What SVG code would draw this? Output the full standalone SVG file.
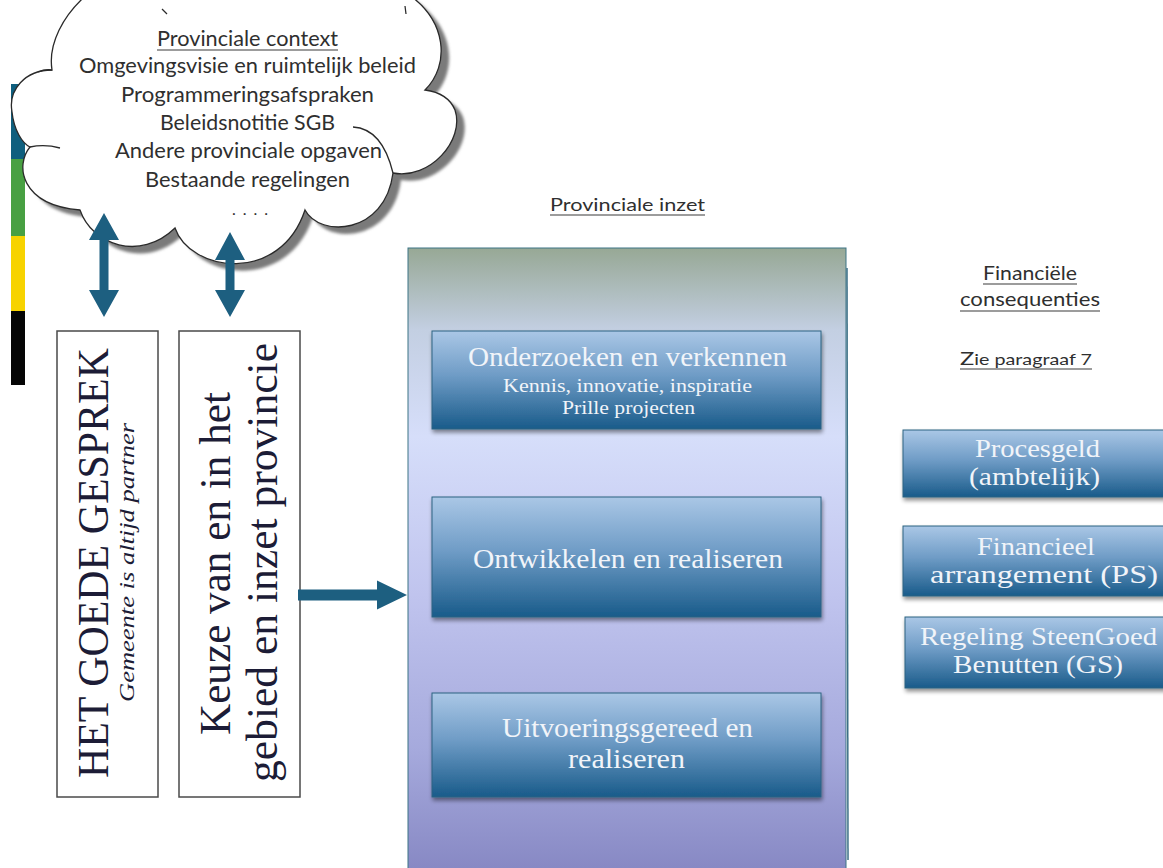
<svg xmlns="http://www.w3.org/2000/svg" width="1163" height="868" viewBox="0 0 1163 868">
  <style>
    .sans { font-family: Lato, "Open Sans", "Liberation Sans", sans-serif; fill: #2f2f2f; }
    .serif { font-family: "Liberation Serif", "DejaVu Serif", serif; }
    .dark { fill: #1c1c36; }
    .light { fill: #f1f4f9; }
    .rule { stroke: #3a3a3a; stroke-width: 1.2; }
    .frame { fill: #ffffff; stroke: #4a4a4a; stroke-width: 1.5; }
    .block { fill: url(#blockFill); stroke: #2e6381; stroke-width: 1; filter: url(#dropShadow); }
    .arrow { fill: #1d5f80; }
    .cloudLine { fill: none; stroke: #2a2a2a; stroke-width: 1.3; }
  </style>
  <defs>
    <linearGradient id="blockFill" x1="0" y1="0" x2="0" y2="1">
      <stop offset="0" stop-color="#aac7e6"/>
      <stop offset="0.45" stop-color="#6f9cc6"/>
      <stop offset="1" stop-color="#195b8a"/>
    </linearGradient>
    <linearGradient id="panelFill" x1="0" y1="0" x2="0" y2="1">
      <stop offset="0" stop-color="#97a895"/>
      <stop offset="0.13" stop-color="#c3cfe2"/>
      <stop offset="0.3" stop-color="#d6defa"/>
      <stop offset="0.55" stop-color="#c0c4ee"/>
      <stop offset="0.8" stop-color="#a5a9dc"/>
      <stop offset="1" stop-color="#8586c2"/>
    </linearGradient>
    <filter id="dropShadow" x="-5%" y="-10%" width="112%" height="130%">
      <feGaussianBlur in="SourceAlpha" stdDeviation="2"/>
      <feOffset dx="1" dy="3" result="b"/>
      <feComponentTransfer><feFuncA type="linear" slope="0.45"/></feComponentTransfer>
      <feMerge><feMergeNode/><feMergeNode in="SourceGraphic"/></feMerge>
    </filter>
    <filter id="soft" x="-10%" y="-10%" width="120%" height="120%">
      <feGaussianBlur stdDeviation="1.8"/>
    </filter>
    <path id="cloudShape" d="M 90,-8 C 62,15 48,45 52,70 C 25,70 8,90 12,112 C 14,130 22,143 30,147 C 15,165 20,205 80,210 C 92,245 140,262 175,228 C 190,272 280,285 305,210 C 320,238 385,235 393,173 C 430,180 465,140 455,110 C 450,98 440,92 425,90 C 450,65 448,20 405,-8 Z"/>
  </defs>

  <rect width="1163" height="868" fill="#ffffff"/>

  <!-- colour strip at the left edge -->
  <g id="colourStrip">
    <rect x="11" y="84" width="14" height="75" fill="#0f5f7e"/>
    <rect x="11" y="159" width="14" height="77" fill="#48a042"/>
    <rect x="11" y="236" width="14" height="75" fill="#f7d300"/>
    <rect x="11" y="311" width="14" height="74" fill="#050505"/>
  </g>

  <!-- context cloud -->
  <g id="cloud">
    <use href="#cloudShape" transform="translate(8,7)" fill="#7a7a7a" filter="url(#soft)"/>
    <use href="#cloudShape" fill="#ffffff" stroke="#2a2a2a" stroke-width="1.3"/>
    <path class="cloudLine" d="M 38,72 Q 45,69 52,70"/>
    <path class="cloudLine" d="M 30,147 Q 45,144 60,148"/>
    <path class="cloudLine" d="M 353,127 C 370,128 385,140 393,173"/>
    <path class="cloudLine" d="M 405,6 L 406,14"/>
    <path class="cloudLine" d="M 162,9 L 167,14"/>
    <text class="sans" x="157" y="46" font-size="21" textLength="181" lengthAdjust="spacingAndGlyphs">Provinciale context</text>
    <line class="rule" x1="157" y1="50" x2="338" y2="50"/>
    <text class="sans" x="79" y="73" font-size="21" textLength="337" lengthAdjust="spacingAndGlyphs">Omgevingsvisie en ruimtelijk beleid</text>
    <text class="sans" x="121" y="102" font-size="21" textLength="253" lengthAdjust="spacingAndGlyphs">Programmeringsafspraken</text>
    <text class="sans" x="160" y="130" font-size="21" textLength="175" lengthAdjust="spacingAndGlyphs">Beleidsnotitie SGB</text>
    <text class="sans" x="115" y="158" font-size="21" textLength="267" lengthAdjust="spacingAndGlyphs">Andere provinciale opgaven</text>
    <text class="sans" x="145" y="187" font-size="21" textLength="205" lengthAdjust="spacingAndGlyphs">Bestaande regelingen</text>
    <text class="sans" x="232" y="215" font-size="16" textLength="36" lengthAdjust="spacing" fill="#666">. . . .</text>
  </g>

  <!-- vertical text columns -->
  <g id="gesprek">
    <rect class="frame" x="57" y="331" width="101" height="466"/>
    <text class="serif dark" transform="translate(108,778) rotate(-90)" font-size="44" textLength="430" lengthAdjust="spacingAndGlyphs">HET GOEDE GESPREK</text>
    <text class="serif dark" transform="translate(134,702) rotate(-90)" font-size="20" font-style="italic" textLength="279" lengthAdjust="spacingAndGlyphs">Gemeente is altijd partner</text>
  </g>

  <g id="keuze">
    <rect class="frame" x="179" y="331" width="121" height="466"/>
    <text class="serif dark" transform="translate(230,735) rotate(-90)" font-size="44" textLength="343" lengthAdjust="spacingAndGlyphs">Keuze van en in het</text>
    <text class="serif dark" transform="translate(277,782) rotate(-90)" font-size="44" textLength="439" lengthAdjust="spacingAndGlyphs">gebied en inzet provincie</text>
  </g>

  <!-- connectors -->
  <g id="connectors">
    <polygon class="arrow" points="104,213 119,240 108.5,240 108.5,290 119,290 104,317 89,290 99.5,290 99.5,240 89,240"/>
    <polygon class="arrow" points="230,232 245,260 234.5,260 234.5,290 245,290 230,317 215,290 225.5,290 225.5,260 215,260"/>
    <polygon class="arrow" points="298,589.5 377,589.5 377,580.5 407,595 377,609.5 377,600.5 298,600.5"/>
  </g>

  <!-- provincial effort panel -->
  <g id="inzet">
    <text class="sans" x="550" y="211" font-size="18" textLength="155" lengthAdjust="spacingAndGlyphs">Provinciale inzet</text>
    <line class="rule" x1="550" y1="215" x2="705" y2="215" stroke-width="1"/>
    <rect x="408" y="248" width="438" height="630" fill="url(#panelFill)" stroke="#3d7585" stroke-width="1"/>
    <path d="M 847,268 L 848,860" stroke="#3b6f86" stroke-width="1.5" fill="none"/>
  </g>

  <g id="onderzoeken">
    <rect class="block" x="432" y="331" width="389" height="98"/>
    <text class="serif light" x="468" y="366" font-size="27" textLength="319" lengthAdjust="spacingAndGlyphs">Onderzoeken  en verkennen</text>
    <text class="serif light" x="503" y="392" font-size="18" textLength="249" lengthAdjust="spacingAndGlyphs">Kennis, innovatie, inspiratie</text>
    <text class="serif light" x="562" y="414" font-size="18" textLength="133" lengthAdjust="spacingAndGlyphs">Prille projecten</text>
  </g>

  <g id="ontwikkelen">
    <rect class="block" x="432" y="497" width="389" height="120"/>
    <text class="serif light" x="473" y="568" font-size="27" textLength="310" lengthAdjust="spacingAndGlyphs">Ontwikkelen  en realiseren</text>
  </g>

  <g id="uitvoeringsgereed">
    <rect class="block" x="432" y="693" width="389" height="104"/>
    <text class="serif light" x="502" y="737" font-size="27" textLength="251" lengthAdjust="spacingAndGlyphs">Uitvoeringsgereed  en</text>
    <text class="serif light" x="568" y="768" font-size="27" textLength="117" lengthAdjust="spacingAndGlyphs">realiseren</text>
  </g>

  <!-- financial consequences -->
  <g id="financieel">
    <text class="sans" x="983" y="280" font-size="20" textLength="94" lengthAdjust="spacingAndGlyphs">Financiële</text>
    <line class="rule" x1="983" y1="284" x2="1077" y2="284" stroke-width="1"/>
    <text class="sans" x="960" y="306" font-size="20" textLength="140" lengthAdjust="spacingAndGlyphs">consequenties</text>
    <line class="rule" x1="960" y1="311" x2="1100" y2="311" stroke-width="1"/>
    <text class="sans" x="960" y="365" font-size="15" textLength="132" lengthAdjust="spacingAndGlyphs"><tspan font-size="18">Z</tspan>ie paragraaf 7</text>
    <line class="rule" x1="960" y1="369" x2="1092" y2="369" stroke-width="1"/>
  </g>

  <g id="procesgeld">
    <rect class="block" x="903" y="430" width="270" height="67"/>
    <text class="serif light" x="975" y="457" font-size="26" textLength="125" lengthAdjust="spacingAndGlyphs">Procesgeld</text>
    <text class="serif light" x="969" y="485" font-size="26" textLength="131" lengthAdjust="spacingAndGlyphs">(ambtelijk)</text>
  </g>

  <g id="arrangement">
    <rect class="block" x="903" y="526" width="270" height="70"/>
    <text class="serif light" x="977" y="555" font-size="26" textLength="118" lengthAdjust="spacingAndGlyphs">Financieel</text>
    <text class="serif light" x="930" y="583" font-size="26" textLength="228" lengthAdjust="spacingAndGlyphs">arrangement (PS)</text>
  </g>

  <g id="regeling">
    <rect class="block" x="905" y="617" width="270" height="71"/>
    <text class="serif light" x="920" y="645" font-size="26" textLength="237" lengthAdjust="spacingAndGlyphs">Regeling SteenGoed</text>
    <text class="serif light" x="953" y="673" font-size="26" textLength="170" lengthAdjust="spacingAndGlyphs">Benutten (GS)</text>
  </g>
</svg>
